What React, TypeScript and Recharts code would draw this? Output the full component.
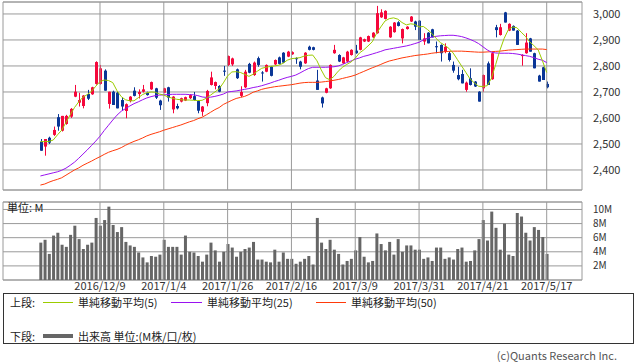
import React from 'react';
import {
  ComposedChart,
  Bar,
  Line,
  XAxis,
  YAxis,
  CartesianGrid,
  ReferenceLine,
  ReferenceArea,
} from 'recharts';

// ---- data ----
const openP = [
  2509, 2490, 2524, 2535, 2603, 2551, 2577, 2605, 2682, 2659,
  2646, 2692, 2691, 2731, 2731, 2782, 2654, 2701, 2697, 2669,
  2627, 2665, 2705, 2692, 2701, 2697, 2710, 2714, 2667, 2697,
  2718, 2633, 2646, 2663, 2667, 2676, 2684, 2665, 2624, 2657,
  2727, 2723, 2723, 2782, 2804, 2806, 2787, 2685, 2718, 2808,
  2765, 2830, 2775, 2778, 2797, 2806, 2833, 2851, 2836, 2845,
  2830, 2817, 2810, 2874, 2872, 2744, 2679, 2697, 2714, 2849,
  2842, 2810, 2817, 2842, 2859, 2862, 2894, 2894, 2910, 2926,
  2987, 2981, 2910, 2930, 2968, 2906, 2942, 2971, 2971, 2974,
  2894, 2928, 2941, 2876, 2881, 2855, 2849, 2804, 2765, 2769,
  2708, 2753, 2740, 2701, 2714, 2810, 2749, 2949, 2919, 3006,
  2936, 2954, 2936, 2838, 2849, 2906, 2849, 2763, 2795, 2731,
];
const highP = [
  2519, 2519, 2528, 2567, 2615, 2608, 2612, 2638, 2727, 2697,
  2688, 2708, 2720, 2818, 2804, 2787, 2701, 2705, 2700, 2680,
  2656, 2684, 2718, 2710, 2727, 2701, 2740, 2716, 2670, 2716,
  2720, 2684, 2655, 2678, 2682, 2692, 2700, 2668, 2646, 2708,
  2778, 2740, 2726, 2800, 2840, 2832, 2790, 2722, 2785, 2812,
  2817, 2836, 2780, 2806, 2800, 2825, 2836, 2853, 2858, 2856,
  2833, 2820, 2853, 2878, 2874, 2785, 2682, 2716, 2806, 2881,
  2845, 2835, 2858, 2864, 2881, 2912, 2905, 2917, 2930, 3031,
  3018, 3014, 2953, 2969, 2972, 2944, 2953, 2992, 2974, 2976,
  2926, 2930, 2943, 2894, 2883, 2887, 2855, 2817, 2797, 2785,
  2740, 2791, 2742, 2703, 2767, 2817, 2853, 2958, 2962, 3008,
  2964, 2956, 2938, 2845, 2926, 2908, 2851, 2766, 2797, 2740,
];
const lowP = [
  2474, 2455, 2500, 2531, 2551, 2548, 2574, 2600, 2680, 2644,
  2637, 2669, 2689, 2728, 2728, 2705, 2636, 2650, 2637, 2630,
  2599, 2660, 2683, 2675, 2698, 2686, 2708, 2673, 2631, 2695,
  2663, 2618, 2633, 2660, 2665, 2673, 2667, 2618, 2608, 2645,
  2725, 2710, 2699, 2762, 2800, 2800, 2750, 2680, 2715, 2772,
  2762, 2797, 2740, 2776, 2760, 2804, 2806, 2811, 2834, 2843,
  2808, 2787, 2808, 2860, 2860, 2708, 2640, 2695, 2712, 2847,
  2815, 2808, 2815, 2840, 2847, 2860, 2892, 2892, 2908, 2924,
  2985, 2979, 2908, 2928, 2952, 2887, 2940, 2969, 2938, 2900,
  2881, 2887, 2910, 2849, 2817, 2849, 2817, 2774, 2745, 2733,
  2701, 2725, 2719, 2663, 2701, 2727, 2747, 2910, 2917, 2967,
  2934, 2936, 2881, 2801, 2847, 2855, 2791, 2740, 2746, 2714,
];
const closeP = [
  2474, 2519, 2505, 2554, 2567, 2608, 2608, 2635, 2701, 2669,
  2686, 2674, 2718, 2815, 2791, 2705, 2701, 2650, 2637, 2644,
  2653, 2682, 2685, 2700, 2710, 2688, 2738, 2678, 2649, 2714,
  2678, 2682, 2637, 2676, 2680, 2688, 2669, 2628, 2644, 2704,
  2756, 2738, 2701, 2778, 2838, 2829, 2753, 2700, 2778, 2774,
  2813, 2804, 2772, 2804, 2762, 2823, 2808, 2813, 2855, 2853,
  2826, 2797, 2851, 2862, 2862, 2708, 2656, 2714, 2804, 2862,
  2817, 2833, 2855, 2862, 2849, 2910, 2903, 2915, 2928, 3003,
  3006, 3012, 2951, 2967, 2954, 2942, 2951, 2990, 2951, 2900,
  2906, 2887, 2910, 2872, 2849, 2874, 2823, 2782, 2749, 2733,
  2736, 2727, 2721, 2663, 2765, 2727, 2849, 2938, 2949, 2967,
  2962, 2936, 2881, 2842, 2890, 2855, 2791, 2740, 2746, 2718,
];
// volume in millions
const volumeM = [
  5.3, 5.7, 3.7, 6.3, 6.7, 5.0, 4.7, 6.4, 7.7, 5.8,
  4.4, 5.0, 5.3, 8.8, 7.7, 8.5, 10.4, 7.8, 6.8, 7.5,
  5.4, 4.9, 4.7, 3.9, 3.2, 2.5, 3.4, 3.3, 3.6, 5.7,
  4.7, 4.7, 4.7, 3.6, 6.3, 4.0, 3.9, 3.4, 2.6, 3.6,
  5.3, 4.2, 2.6, 4.0, 5.1, 4.6, 3.3, 4.0, 4.4, 4.6,
  5.4, 2.9, 2.9, 2.6, 2.5, 4.3, 2.6, 3.9, 3.0, 3.0,
  2.3, 2.6, 3.0, 3.4, 2.2, 8.8, 5.3, 4.4, 5.7, 4.3,
  3.7, 2.2, 2.7, 3.0, 4.2, 6.1, 3.3, 2.5, 2.7, 6.6,
  5.1, 4.2, 5.4, 3.6, 5.8, 4.0, 4.9, 4.9, 4.3, 4.3,
  3.0, 3.2, 2.7, 4.6, 4.6, 3.0, 3.2, 2.9, 4.4, 4.6,
  2.6, 2.7, 4.2, 5.8, 8.5, 5.6, 9.7, 7.4, 4.3, 8.0,
  3.6, 3.4, 9.5, 9.0, 6.7, 5.6, 7.5, 7.1, 6.1, 3.7,
];
const ma5 = [
  2509, 2509, 2510, 2515, 2535, 2553, 2583, 2612, 2640, 2662,
  2680, 2690, 2702, 2722, 2740, 2746, 2744, 2736, 2705, 2682,
  2670, 2666, 2666, 2678, 2690, 2697, 2700, 2699, 2692, 2688,
  2681, 2676, 2672, 2670, 2669, 2669, 2668, 2667, 2668, 2676,
  2688, 2700, 2712, 2735, 2762, 2777, 2778, 2775, 2768, 2760,
  2768, 2780, 2791, 2795, 2798, 2800, 2803, 2810, 2822, 2828,
  2830, 2832, 2838, 2841, 2842, 2820, 2785, 2755, 2747, 2760,
  2780, 2795, 2806, 2815, 2830, 2850, 2862, 2877, 2893, 2925,
  2950, 2973, 2982, 2985, 2980, 2967, 2958, 2962, 2960, 2950,
  2952, 2940, 2925, 2906, 2890, 2880, 2868, 2850, 2825, 2800,
  2775, 2750, 2735, 2722, 2721, 2724, 2752, 2805, 2860, 2906,
  2940, 2950, 2947, 2930, 2914, 2893, 2878, 2862, 2820, 2775,
];
const ma25 = [
  2377, 2381, 2385, 2389, 2393, 2399, 2407, 2418, 2430, 2445,
  2461, 2477, 2494, 2511, 2530, 2552, 2572, 2592, 2611, 2626,
  2636, 2646, 2655, 2662, 2670, 2677, 2682, 2686, 2688, 2689,
  2690, 2691, 2691, 2691, 2691, 2690, 2689, 2686, 2681, 2679,
  2680, 2683, 2687, 2692, 2700, 2702, 2704, 2707, 2710, 2713,
  2717, 2720, 2724, 2729, 2734, 2740, 2745, 2751, 2756, 2760,
  2765, 2773, 2782, 2790, 2795, 2795, 2795, 2795, 2796, 2797,
  2800, 2806, 2813, 2819, 2826, 2831, 2837, 2841, 2846, 2851,
  2856, 2862, 2865, 2868, 2871, 2874, 2877, 2881, 2886, 2891,
  2900, 2907, 2911, 2914, 2916, 2917, 2918, 2918, 2916, 2913,
  2908, 2902, 2895, 2886, 2874, 2862, 2853, 2850, 2849, 2849,
  2849, 2848, 2846, 2843, 2840, 2837, 2832, 2826, 2822, 2813,
];
const ma50 = [
  2342, 2346, 2353, 2359, 2364, 2370, 2380, 2390, 2400, 2408,
  2418, 2426, 2434, 2443, 2451, 2460, 2468, 2474, 2479, 2486,
  2495, 2503, 2510, 2516, 2523, 2531, 2537, 2542, 2547, 2553,
  2558, 2563, 2568, 2573, 2579, 2585, 2590, 2597, 2603, 2612,
  2622, 2632, 2640, 2652, 2660, 2668, 2675, 2679, 2683, 2690,
  2699, 2704, 2710, 2714, 2717, 2720, 2722, 2724, 2726, 2728,
  2731, 2734, 2736, 2737, 2737, 2737, 2738, 2740, 2742, 2745,
  2748, 2752, 2756, 2760, 2765, 2772, 2779, 2786, 2793, 2799,
  2806, 2813, 2819, 2823, 2827, 2831, 2834, 2837, 2840, 2842,
  2844, 2846, 2849, 2851, 2853, 2855, 2856, 2857, 2857, 2857,
  2856, 2855, 2854, 2853, 2853, 2854, 2855, 2856, 2857, 2859,
  2861, 2862, 2863, 2864, 2865, 2865, 2865, 2865, 2865, 2863,
];
const dateTickIndex = [14, 29, 44, 59, 74, 89, 104, 119];
const dateTickLabels = [
  '2016/12/9', '2017/1/4', '2017/1/26', '2017/2/16',
  '2017/3/9', '2017/3/31', '2017/4/21', '2017/5/17',
];
const priceTicks = [2400, 2500, 2600, 2700, 2800, 2900, 3000];
const volumeTicks = [2, 4, 6, 8, 10];

// ---- styling ----
const UP = '#f5073b';
const DOWN = '#0a3696';
const C_MA5 = '#9ccc00';
const C_MA25 = '#9a12f0';
const C_MA50 = '#ff3a0a';
const GRID = '#9a9a9a';
const VOL = '#666666';
const FONT = "'Noto Sans CJK JP', 'Noto Sans', sans-serif";
const X_DOMAIN: [number, number] = [-8.8, 127.3];
const PRICE_DOMAIN: [number, number] = [2323, 3046];
const VOL_DOMAIN: [number, number] = [0, 11.06];

const data = openP.map((o, i) => ({
  i,
  open: o,
  high: highP[i],
  low: lowP[i],
  close: closeP[i],
  range: [lowP[i], highP[i]],
  vol: volumeM[i],
  ma5: ma5[i],
  ma25: ma25[i],
  ma50: ma50[i],
}));

const Candle = (props: any) => {
  const { x, width, payload } = props;
  let { y, height } = props;
  if (x == null || y == null || payload == null) return null;
  if (height < 0) {
    y = y + height;
    height = -height;
  }
  const { open, close, high, low } = payload;
  const span = high - low;
  const k = span > 0 ? height / span : 0;
  const cx = Math.round(x + width / 2);
  const yO = y + (high - open) * k;
  const yC = y + (high - close) * k;
  const color = close >= open ? UP : DOWN;
  const top = Math.min(yO, yC);
  const h = Math.max(1, Math.abs(yO - yC));
  return (
    <g>
      <line x1={cx + 0.5} x2={cx + 0.5} y1={y} y2={y + height} stroke={color} strokeWidth={1} />
      <rect x={cx - 1} y={top} width={3} height={h} fill={color} />
    </g>
  );
};

const tickStyle = { fontSize: 11, fill: '#333', fontFamily: FONT };
const volTickStyle = { fontSize: 10, fill: '#333', fontFamily: FONT };

export default function App() {
  return (
    <div
      style={{
        position: 'absolute',
        left: 0,
        top: 0,
        width: 638,
        height: 362,
        background: '#fff',
        overflow: 'hidden',
        fontFamily: FONT,
      }}
    >
      {/* price panel */}
      <div style={{ position: 'absolute', left: 0, top: 0 }}>
        <ComposedChart
          width={638}
          height={192}
          data={data}
          margin={{ top: 2, right: 0, bottom: 2, left: 3 }}
        >
          <CartesianGrid vertical={false} stroke={GRID} strokeWidth={1} />
          <XAxis
            dataKey="i"
            type="number"
            domain={X_DOMAIN}
            allowDataOverflow
            hide
          />
          <YAxis
            orientation="right"
            width={56}
            domain={PRICE_DOMAIN}
            allowDataOverflow
            ticks={priceTicks}
            interval={0}
            axisLine={false}
            tickLine={false}
            tickSize={9}
            tickMargin={2}
            tick={tickStyle}
            tickFormatter={(v: number) => v.toLocaleString('en-US')}
          />
          {dateTickIndex.map((d) => (
            <ReferenceLine key={d} x={d} stroke={GRID} strokeWidth={1} />
          ))}
          <ReferenceArea
            x1={X_DOMAIN[0]}
            x2={X_DOMAIN[1]}
            y1={PRICE_DOMAIN[0]}
            y2={PRICE_DOMAIN[1]}
            fill="none"
            fillOpacity={0}
            stroke={GRID}
            strokeWidth={1}
          />
          <Bar dataKey="range" barSize={3} shape={Candle} isAnimationActive={false} />
          <Line type="linear" dataKey="ma50" stroke={C_MA50} strokeWidth={1} dot={false} isAnimationActive={false} />
          <Line type="linear" dataKey="ma25" stroke={C_MA25} strokeWidth={1} dot={false} isAnimationActive={false} />
          <Line type="linear" dataKey="ma5" stroke={C_MA5} strokeWidth={1} dot={false} isAnimationActive={false} />
        </ComposedChart>
      </div>

      {/* volume panel */}
      <div style={{ position: 'absolute', left: 0, top: 195 }}>
        <ComposedChart
          width={638}
          height={100}
          data={data}
          margin={{ top: 7, right: 0, bottom: 0, left: 3 }}
        >
          <CartesianGrid vertical={false} stroke={GRID} strokeWidth={1} />
          <XAxis
            dataKey="i"
            type="number"
            domain={X_DOMAIN}
            allowDataOverflow
            ticks={dateTickIndex}
            interval={0}
            height={15}
            axisLine={false}
            tickLine={false}
            tickSize={0}
            tickMargin={2}
            tick={tickStyle}
            tickFormatter={(v: number) => {
              const k = dateTickIndex.indexOf(v);
              return k >= 0 ? dateTickLabels[k] : '';
            }}
          />
          <YAxis
            orientation="right"
            width={56}
            domain={VOL_DOMAIN}
            allowDataOverflow
            ticks={volumeTicks}
            interval={0}
            axisLine={false}
            tickLine={false}
            tickSize={9}
            tickMargin={2}
            tick={volTickStyle}
            tickFormatter={(v: number) => `${v}M`}
          />
          {dateTickIndex.map((d) => (
            <ReferenceLine key={d} x={d} stroke={GRID} strokeWidth={1} />
          ))}
          <ReferenceArea
            x1={X_DOMAIN[0]}
            x2={X_DOMAIN[1]}
            y1={VOL_DOMAIN[0]}
            y2={VOL_DOMAIN[1]}
            fill="none"
            fillOpacity={0}
            stroke={GRID}
            strokeWidth={1}
          />
          <Bar dataKey="vol" barSize={3} fill={VOL} isAnimationActive={false} />
        </ComposedChart>
      </div>
      <div
        style={{
          position: 'absolute',
          left: 7,
          top: 201,
          fontSize: 11,
          lineHeight: '13px',
          color: '#222',
        }}
      >
        単位: M
      </div>

      {/* legend */}
      <div
        style={{
          position: 'absolute',
          left: 3,
          top: 293,
          width: 629,
          height: 49,
          border: '1px solid #333',
          fontSize: 11,
          color: '#222',
        }}
      >
        <div style={{ position: 'absolute', left: 6, top: 1, lineHeight: '14px' }}>上段:</div>
        <div style={{ position: 'absolute', left: 39, top: 8, width: 30, height: 1, background: C_MA5 }} />
        <div style={{ position: 'absolute', left: 74, top: 1, lineHeight: '14px' }}>単純移動平均(5)</div>
        <div style={{ position: 'absolute', left: 167, top: 8, width: 31, height: 1, background: C_MA25 }} />
        <div style={{ position: 'absolute', left: 203, top: 1, lineHeight: '14px' }}>単純移動平均(25)</div>
        <div style={{ position: 'absolute', left: 312, top: 8, width: 30, height: 1, background: C_MA50 }} />
        <div style={{ position: 'absolute', left: 347, top: 1, lineHeight: '14px' }}>単純移動平均(50)</div>

        <div style={{ position: 'absolute', left: 6, top: 35, lineHeight: '14px' }}>下段:</div>
        <div style={{ position: 'absolute', left: 39, top: 40, width: 30, height: 4, background: VOL }} />
        <div style={{ position: 'absolute', left: 74, top: 35, lineHeight: '14px' }}>出来高 単位:(M株/口/枚)</div>
      </div>
      <div
        style={{
          position: 'absolute',
          right: 21,
          top: 349,
          fontSize: 11,
          lineHeight: '13px',
          color: '#555',
        }}
      >
        (c)Quants Research Inc.
      </div>
    </div>
  );
}
